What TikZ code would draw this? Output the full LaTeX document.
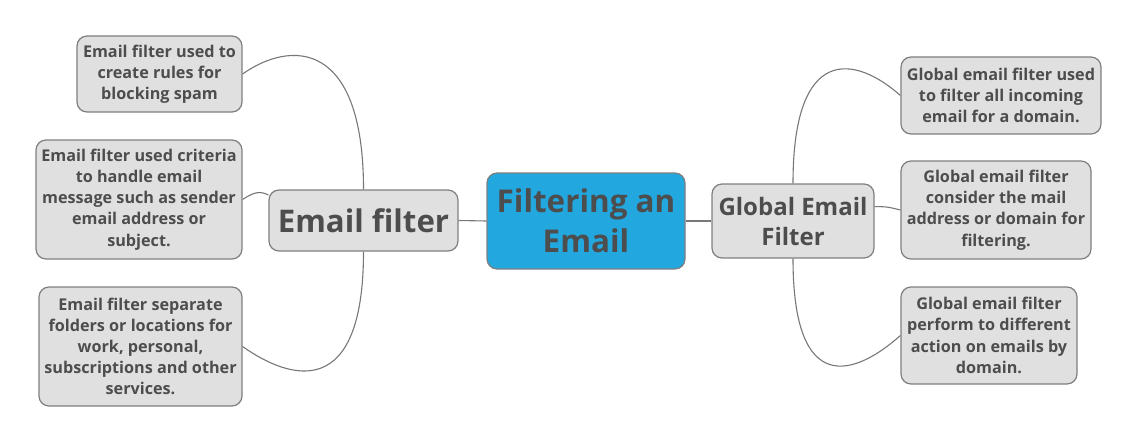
\documentclass[tikz,border=0pt]{standalone}
\usepackage{fontspec}
\setmainfont{Open Sans}
\usetikzlibrary{backgrounds}
\definecolor{boxfill}{HTML}{E0E0E0}
\definecolor{boxline}{HTML}{7F7F7F}
\definecolor{txt}{HTML}{4D4D4D}
\definecolor{centerfill}{HTML}{22A7DF}
\definecolor{linkcol}{HTML}{777777}
\tikzset{
  topic/.style={draw=boxline, fill=boxfill, rounded corners=10pt, line width=1.2pt,
    text=txt, align=center, inner sep=0pt, font=\bfseries\fontsize{16.2}{21.2}\selectfont},
  maintopic/.style={topic, font=\bfseries\fontsize{31.2}{34}\selectfont},
  globtopic/.style={topic, font=\bfseries\fontsize{24}{30}\selectfont},
  central/.style={topic, fill=centerfill, draw=boxline, font=\bfseries\fontsize{31.4}{40}\selectfont},
  link/.style={draw=linkcol, line width=1.1pt}
}
\begin{document}
\begin{tikzpicture}[x=1pt,y=-1pt]
\useasboundingbox (0,0) rectangle (1138,444);
\node[central, minimum width=198pt, minimum height=96pt] (c) at (586,221) {Filtering an\\Email};
\node[maintopic, minimum width=189pt, minimum height=61pt] (ef) at (363.5,220.5) {Email filter};
\node[globtopic, minimum width=162pt, minimum height=74pt] (gf) at (793,221) {Global Email\\Filter};
\node[topic, minimum width=165pt, minimum height=76pt] (l1) at (159.5,74) {Email filter used to\\create rules for\\blocking spam};
\node[topic, minimum width=206pt, minimum height=119pt] (l2) at (139,199.5) {Email filter used criteria\\to handle email\\message such as sender\\email address or\\subject.};
\node[topic, minimum width=203pt, minimum height=119pt] (l3) at (140.5,346.5) {Email filter separate\\folders or locations for\\work, personal,\\subscriptions and other\\services.};
\node[topic, minimum width=200pt, minimum height=77pt] (r1) at (1001,95.5) {Global email filter used\\to filter all incoming\\email for a domain.};
\node[topic, minimum width=190pt, minimum height=98pt] (r2) at (996,210) {Global email filter\\consider the mail\\address or domain for\\filtering.};
\node[topic, minimum width=176pt, minimum height=97pt] (r3) at (989,335.5) {Global email filter\\perform to different\\action on emails by\\domain.};
\begin{scope}[on background layer]
\draw[link] (c.west) -- (ef.east);
\draw[link] (c.east) -- (gf.west);
\draw[link] (ef.north) .. controls +(0,-150) and +(48,-34) .. (l1.east);
\draw[link] (ef.165) .. controls +(-8,-4) and +(12,-8) .. (l2.east);
\draw[link] (ef.south) .. controls +(0,150) and +(48,34) .. (l3.east);
\draw[link] (gf.north) .. controls +(0,-140) and +(-45,-40) .. (r1.west);
\draw[link] (gf.10) .. controls +(12,0) and +(-12,-3) .. (r2.west);
\draw[link] (gf.south) .. controls +(0,140) and +(-45,40) .. (r3.west);
\end{scope}
\end{tikzpicture}
\end{document}
